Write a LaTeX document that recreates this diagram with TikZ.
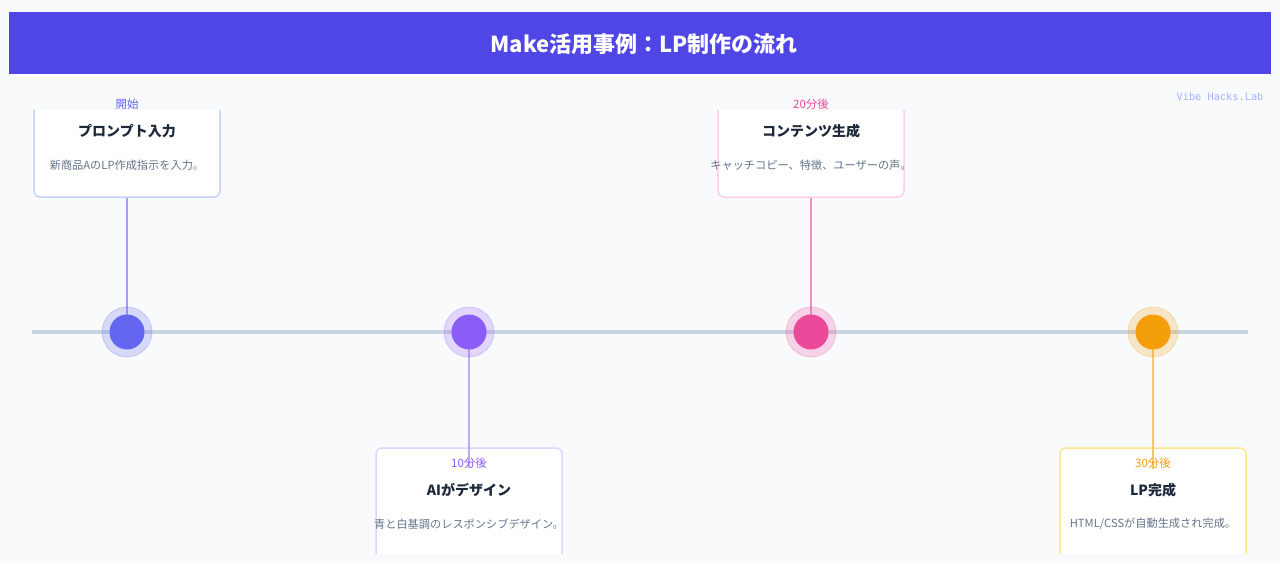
\documentclass[tikz,border=0pt]{standalone}
\usepackage{fontspec}
\setmainfont{Noto Sans CJK JP}
\newfontfamily\monofont{DejaVu Sans Mono}
\definecolor{bg}{HTML}{F8FAFC}
\definecolor{hdr}{HTML}{4F46E5}
\definecolor{tline}{HTML}{CBD5E1}
\definecolor{ttl}{HTML}{1E293B}
\definecolor{dsc}{HTML}{64748B}
\definecolor{cA}{HTML}{6366F1}\definecolor{bA}{HTML}{C7D2FE}\definecolor{lA}{HTML}{A29EF2}
\definecolor{cB}{HTML}{8B5CF6}\definecolor{bB}{HTML}{DDD6FE}\definecolor{lB}{HTML}{BFA8F8}
\definecolor{cC}{HTML}{EC4899}\definecolor{bC}{HTML}{FBCFE8}\definecolor{lC}{HTML}{F290C2}
\definecolor{cD}{HTML}{F59E0B}\definecolor{bD}{HTML}{FDE68A}\definecolor{lD}{HTML}{F8C865}
\definecolor{wm}{HTML}{A5B4FC}
\tikzset{
  card/.style={draw=#1, line width=1.5pt, fill=white, rounded corners=6pt, minimum width=186pt, inner sep=0pt},
  halo/.style={circle, fill=#1, fill opacity=0.22, draw=#1, draw opacity=0.25, line width=0.8pt, minimum size=50pt, inner sep=0pt},
  dot/.style={circle, fill=#1, minimum size=35pt, inner sep=0pt},
  conn/.style={draw=#1, line width=1.6pt},
  tag/.style={text=#1, font=\fontsize{11.5}{13}\selectfont},
  cardtitle/.style={text=ttl, font=\fontsize{14}{16}\selectfont\bfseries},
  carddesc/.style={text=dsc, font=\fontsize{11.2}{13}\selectfont},
}
\begin{document}
\begin{tikzpicture}[x=1pt,y=-1pt]
\fill[bg] (0,0) rectangle (1280,563);
\useasboundingbox (0,0) rectangle (1280,563);
% header
\fill[hdr] (9,12) rectangle (1271,74);
\node[text=white, font=\fontsize{22}{26}\selectfont\bfseries] (title) at (644,44) {Make活用事例：LP制作の流れ};
\node[text=wm, font=\monofont\fontsize{10.3}{12}\selectfont] (wmark) at (1220,97) {Vibe Hacks.Lab};
% timeline
\draw[tline, line width=4pt] (32,332) -- (1248,332);
\coordinate (p1) at (127,332);
\coordinate (p2) at (469,332);
\coordinate (p3) at (811,332);
\coordinate (p4) at (1153,332);
% cards, clipped
\begin{scope}
\clip (0,110) rectangle (1280,553);
\node[card=bA, minimum height=117pt] (box1) at (127,138.5) {};
\node[card=bC, minimum height=117pt] (box3) at (811,138.5) {};
\node[card=bB, minimum height=137pt] (box2) at (469,516.5) {};
\node[card=bD, minimum height=137pt] (box4) at (1153,516.5) {};
\end{scope}
% connectors
\coordinate (e2) at (469,468);
\coordinate (e4) at (1153,469);
\draw[conn=lA] (box1.south) -- (p1);
\draw[conn=lC] (box3.south) -- (p3);
\draw[conn=lB] (p2) -- (e2);
\draw[conn=lD] (p4) -- (e4);
% dots
\node[halo=cA] (h1) at (p1) {};
\node[halo=cB] (h2) at (p2) {};
\node[halo=cC] (h3) at (p3) {};
\node[halo=cD] (h4) at (p4) {};
\node[dot=cA] (d1) at (p1) {};
\node[dot=cB] (d2) at (p2) {};
\node[dot=cC] (d3) at (p3) {};
\node[dot=cD] (d4) at (p4) {};
% texts
\node[tag=cA] (t1) at (127,104) {開始};
\node[cardtitle] (n1) at (127,131) {プロンプト入力};
\node[carddesc] (s1) at (127,165) {新商品AのLP作成指示を入力。};
\node[tag=cC] (t3) at (811,104) {20分後};
\node[cardtitle] (n3) at (811,131) {コンテンツ生成};
\node[carddesc] (s3) at (811,165) {キャッチコピー、特徴、ユーザーの声。};
\node[tag=cB] (t2) at (469,463) {10分後};
\node[cardtitle] (n2) at (469,490) {AIがデザイン};
\node[carddesc] (s2) at (469,524) {青と白基調のレスポンシブデザイン。};
\node[tag=cD] (t4) at (1153,463) {30分後};
\node[cardtitle] (n4) at (1153,490) {LP完成};
\node[carddesc] (s4) at (1153,524) {HTML/CSSが自動生成され完成。};
\end{tikzpicture}
\end{document}
